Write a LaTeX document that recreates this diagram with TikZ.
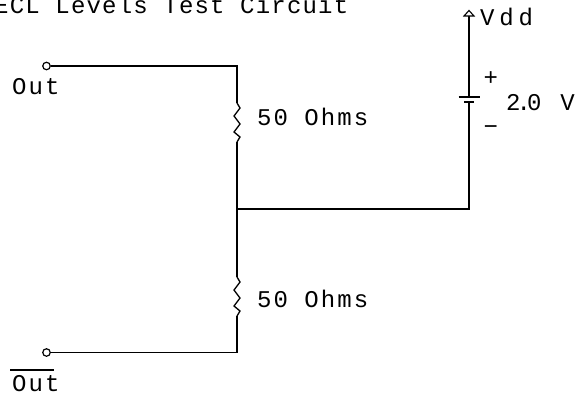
\documentclass[tikz,border=0pt]{standalone}
\usepackage{fontspec}
\setmainfont{Liberation Sans}
\newfontfamily\cadfont[LetterSpace=8.5]{Liberation Mono}
\newfontfamily\cadtitle[LetterSpace=5]{Liberation Mono}
\newfontfamily\cadwide[LetterSpace=20]{Liberation Mono}
\tikzset{
  wire/.style={draw=black,line width=1.3pt,line join=miter},
  lbl/.style={inner sep=0pt,anchor=base west,font=\cadfont\fontsize{24}{24}\selectfont},
  widelbl/.style={inner sep=0pt,anchor=base west,font=\cadwide\fontsize{24}{24}\selectfont},
  titlelbl/.style={inner sep=0pt,anchor=base west,font=\cadtitle\fontsize{24}{24}\selectfont},
  term/.style={circle,draw=black,line width=1.2pt,fill=white,minimum size=7.5pt,inner sep=0pt},
}
\begin{document}
\begin{tikzpicture}[x=1pt,y=-1pt]
\useasboundingbox (0,0) rectangle (580,394);
\node[term] (t1) at (46.5,66) {};
\node[term] (t2) at (46.5,352.5) {};
\coordinate (c1) at (237,66);
\coordinate (c2) at (237,352.5);
\coordinate (r1a) at (237,103);
\coordinate (r1b) at (237,142);
\coordinate (r2a) at (237,277);
\coordinate (r2b) at (237,316);
\coordinate (j) at (237,209);
\coordinate (jv) at (469,209);
\coordinate (bb) at (469,102);
\coordinate (bt) at (469,97);
\coordinate (top) at (469,16);
\draw[wire] (t1) -- (c1) -- (r1a);
\draw[wire] (r1a) -- ++(3,5) -- ++(-6,8) -- ++(6,8) -- ++(-6,8) -- ++(6,5) -- ++(-3,5);
\draw[wire] (r1b) -- (j) -- (r2a);
\draw[wire] (r2a) -- ++(3,5) -- ++(-6,8) -- ++(6,8) -- ++(-6,8) -- ++(6,5) -- ++(-3,5);
\draw[wire] (r2b) -- (c2) -- (t2);
\draw[wire] (j) -- (jv) -- (bb);
\draw[wire] (bb) ++(-5,0) -- ++(10,0);
\draw[wire] (bt) ++(-10.5,0) -- ++(21,0);
\draw[wire] (bt) -- (top);
\draw[wire,line width=1.1pt,fill=white] (top) ++(-5,0) -- ++(5,-5.5) -- ++(5,5.5) -- cycle;
\node[titlelbl] (title) at (-6,13) {ECL Levels Test Circuit};
\node[lbl] (out1) at (12,94) {Out};
\node[lbl] (out2) at (12,391) {\rlap{\kern-2pt\raisebox{20.5pt}{\rule{44pt}{1.2pt}}}Out};
\node[lbl] (r1) at (257,125) {50 Ohms};
\node[lbl] (r2) at (257,307) {50 Ohms};
\node[widelbl] (vdd) at (480,25) {Vdd};
\node[lbl] (plus) at (483.5,85) {+};
\node[lbl] (minus) at (483.5,134) {−};
\node[lbl] (volt) at (506,110) {2\kern-4pt.\kern-4pt0\kern19pt V};
\end{tikzpicture}
\end{document}
